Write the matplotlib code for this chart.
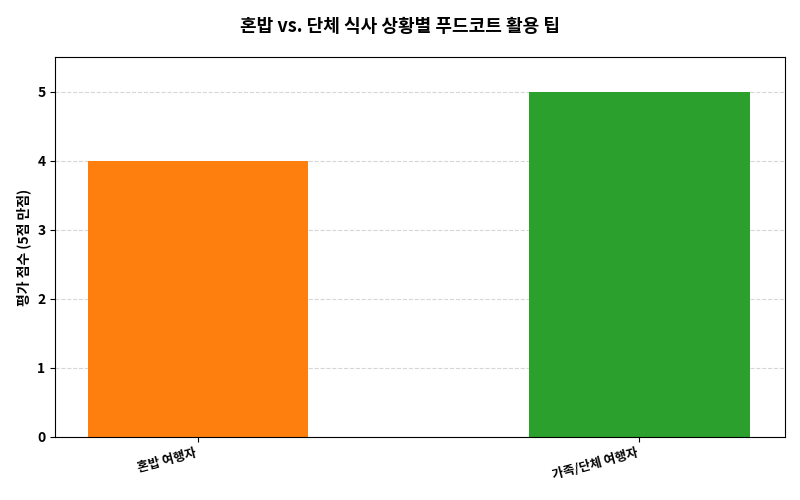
import matplotlib
matplotlib.use("Agg")
import matplotlib.pyplot as plt

plt.rcParams['font.family'] = ['Noto Sans CJK KR', 'DejaVu Sans']

categories = ["혼밥 여행자", "가족/단체 여행자"]
scores = [4, 5]
colors = ["#ff7f0e", "#2ca02c"]

fig = plt.figure(figsize=(8, 5), dpi=100)
ax = fig.add_axes([0.069, 0.126, 0.912, 0.76])
x = list(range(len(categories)))
ax.bar(x, scores, width=0.5, color=colors, zorder=2)
ax.set_xlim(-0.324, 1.33)
ax.set_ylim(0, 5.5)
ax.set_xticks(x)
ax.set_xticklabels(categories, rotation=15, ha='right', fontweight='bold', fontsize=9)
for lbl in ax.get_yticklabels():
    lbl.set_fontweight('bold')
ax.tick_params(axis='y', labelsize=10)
ax.set_ylabel("평가 점수 (5점 만점)", fontweight='bold', fontsize=10)
ax.yaxis.grid(True, linestyle='--', color='#cccccc', alpha=0.8, zorder=0)
ax.set_axisbelow(True)
fig.suptitle("혼밥 vs. 단체 식사 상황별 푸드코트 활용 팁", fontweight='bold', fontsize=13, y=0.965)
fig.savefig("out.png", dpi=100)
